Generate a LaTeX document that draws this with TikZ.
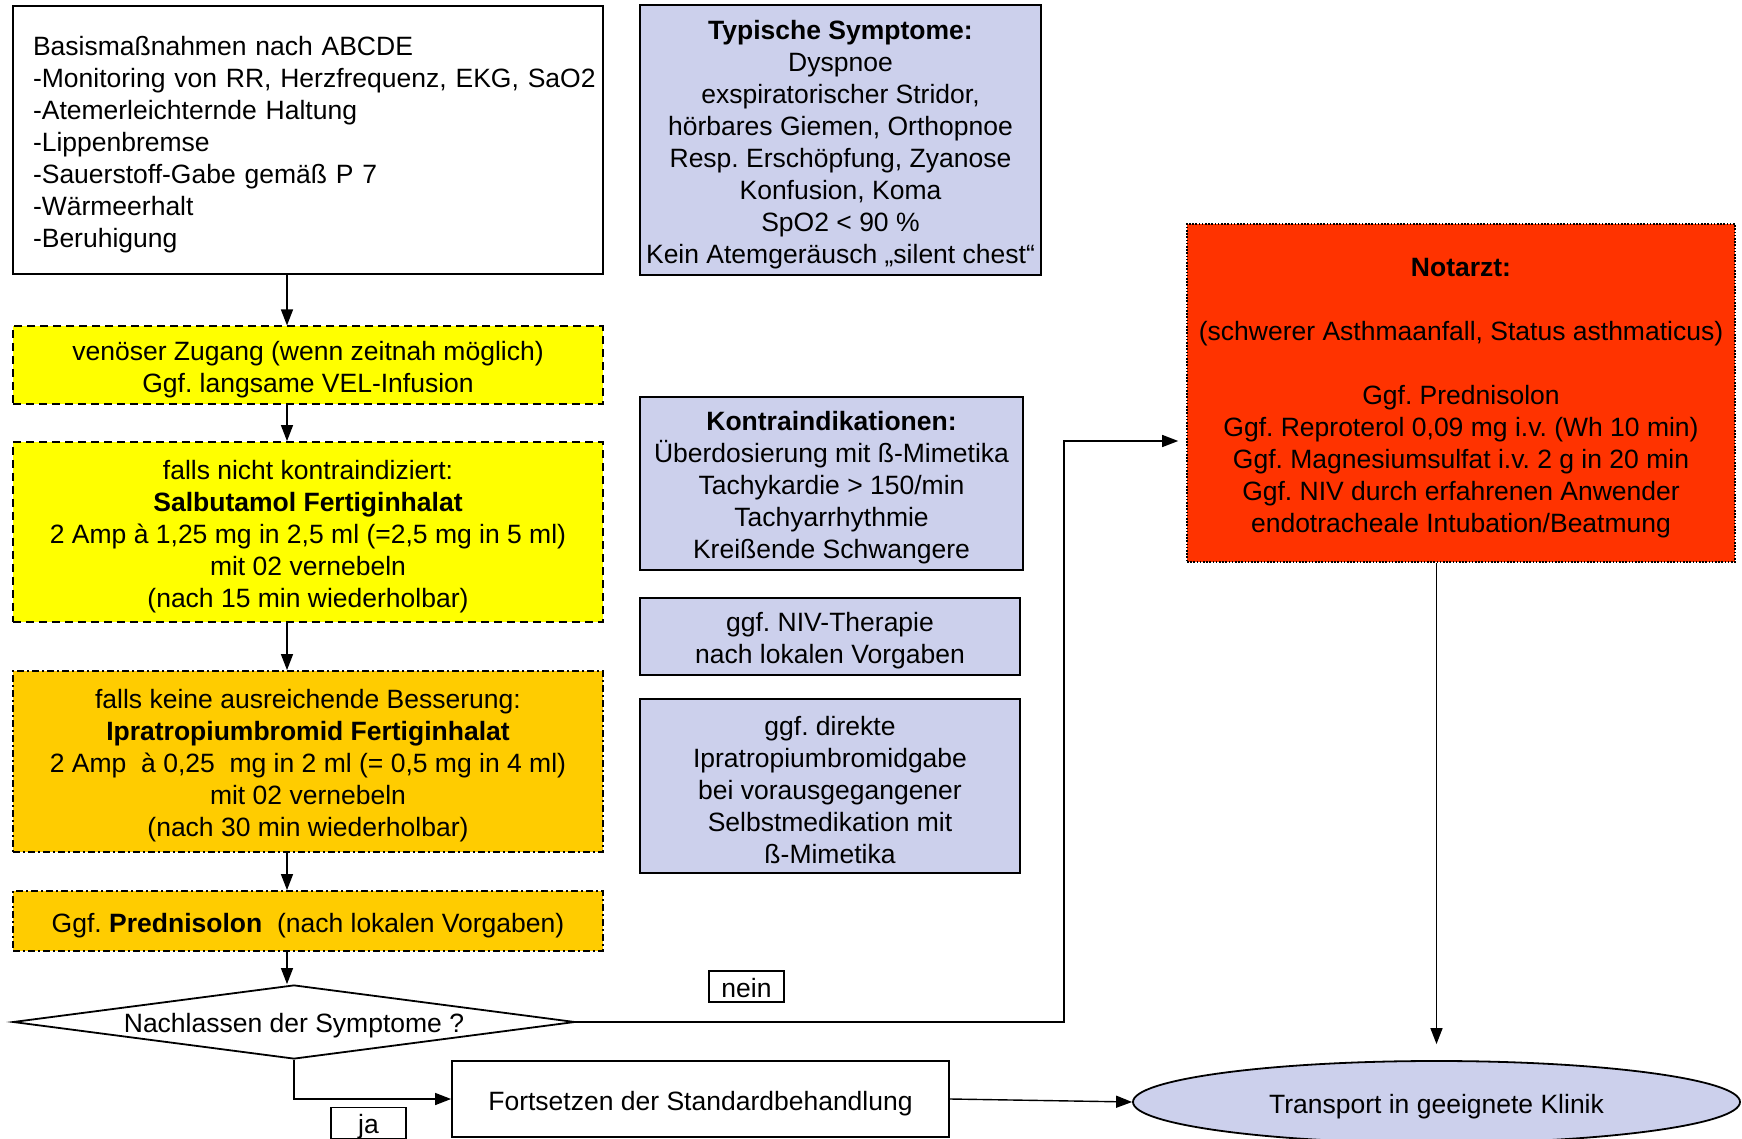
\documentclass[tikz,border=0pt]{standalone}
\usepackage{fontspec}
\setmainfont{Liberation Sans}
\usetikzlibrary{shapes.geometric,arrows.meta,calc}

\definecolor{lav}{RGB}{204,208,236}
\definecolor{gelb}{RGB}{255,255,0}
\definecolor{orangegelb}{RGB}{255,204,0}
\definecolor{notrot}{RGB}{255,51,0}

% taller first line, so that stacked lines sit a little lower in their box
\newcommand\tstrut{\rule{0pt}{13.9pt}}
% single line moved down by #1 without changing the node size
\newcommand\lowered[2]{\raisebox{-#1}[\height][\depth]{#2}}

\tikzset{
  base/.style={draw=black, line width=0.9pt, align=center, inner sep=3pt,
    font=\fontsize{13.25}{16}\selectfont\frenchspacing},
  wh/.style 2 args={minimum width=#1*0.5pt, minimum height=#2*0.5pt},
  plainbox/.style={base, fill=white},
  infobox/.style={base, fill=lav},
  gelbbox/.style={base, fill=gelb, dash pattern=on 4pt off 2.5pt},
  orangebox/.style={base, fill=orangegelb, dash pattern=on 3.5pt off 1.5pt on 1pt off 1.5pt},
  rotbox/.style={base, fill=notrot, line width=0.8pt, dash pattern=on 0.8pt off 0.8pt},
  tagbox/.style={base, fill=white, line width=0.8pt, inner sep=1pt},
  flow/.style={draw=black, line width=0.7pt, -{Triangle[length=8pt,width=6pt]}},
}

\begin{document}
\begin{tikzpicture}[x=0.5pt, y=-0.5pt]
\useasboundingbox (0,0) rectangle (1742,1139);

% left column: treatment steps
\node[plainbox, wh={590}{268}, align=left, text width=275pt, inner xsep=10pt] (basis) at (308,140)
  {\mbox{\tstrut Basismaßnahmen nach ABCDE}\\
   \mbox{-Monitoring von RR, Herzfrequenz, EKG, SaO2}\\
   \mbox{-Atemerleichternde Haltung}\\
   \mbox{-Lippenbremse}\\
   \mbox{-Sauerstoff-Gabe gemäß P 7}\\
   \mbox{-Wärmeerhalt}\\
   \mbox{-Beruhigung}};

\node[gelbbox, wh={590}{74}] (zugang) at (308,365)
  {\tstrut venöser Zugang (wenn zeitnah möglich)\\ Ggf. langsame VEL-Infusion};

\node[gelbbox, wh={590}{180}] (salbu) at (308,532)
  {\tstrut falls nicht kontraindiziert:\\
   \textbf{Salbutamol Fertiginhalat}\\
   2 Amp à 1,25 mg in 2,5 ml (=2,5 mg in 5 ml)\\
   mit 02 vernebeln\\
   (nach 15 min wiederholbar)};

\node[orangebox, wh={590}{181}] (ipra) at (308,761.5)
  {\tstrut falls keine ausreichende Besserung:\\
   \textbf{Ipratropiumbromid Fertiginhalat}\\
   2 Amp\ \ à 0,25\ \ mg in 2 ml (= 0,5 mg in 4 ml)\\
   mit 02 vernebeln\\
   (nach 30 min wiederholbar)};

\node[orangebox, wh={590}{60}] (predni) at (308,921)
  {\lowered{2.1pt}{Ggf. \textbf{Prednisolon}\ \ (nach lokalen Vorgaben)}};

\node[base, diamond, fill=white, shape aspect=7.6, inner sep=0pt, wh={562}{74}] (frage) at (294,1022)
  {\lowered{1.6pt}{Nachlassen der Symptome ?}};

% middle column: information boxes
\node[infobox, wh={401}{268}] (sympt) at (840.5,140)
  {\tstrut\textbf{Typische Symptome:}\\
   Dyspnoe\\
   exspiratorischer Stridor,\\
   hörbares Giemen, Orthopnoe\\
   Resp. Erschöpfung, Zyanose\\
   Konfusion, Koma\\
   SpO2 < 90 \%\\
   Kein Atemgeräusch „silent chest“};

\node[infobox, wh={383}{173}] (kontra) at (831.5,483.5)
  {\tstrut\textbf{Kontraindikationen:}\\
   Überdosierung mit ß-Mimetika\\
   Tachykardie > 150/min\\
   Tachyarrhythmie\\
   Kreißende Schwangere};

\node[infobox, wh={380}{69}] (niv) at (830,636.5)
  {\tstrut ggf. NIV-Therapie\\ nach lokalen Vorgaben};

\node[infobox, wh={380}{174}] (direkt) at (830,786)
  {\tstrut ggf. direkte\\
   Ipratropiumbromidgabe\\
   bei vorausgegangener\\
   Selbstmedikation mit\\
   ß-Mimetika};

% right column: emergency physician
\node[rotbox, wh={548}{338}] (notarzt) at (1461,393)
  {\tstrut\textbf{Notarzt:}\\[16pt]
   (schwerer Asthmaanfall, Status asthmaticus)\\[16pt]
   Ggf. Prednisolon\\
   Ggf. Reproterol 0,09 mg i.v. (Wh 10 min)\\
   Ggf. Magnesiumsulfat i.v. 2 g in 20 min\\
   Ggf. NIV durch erfahrenen Anwender\\
   endotracheale Intubation/Beatmung};

% bottom row
\node[plainbox, wh={497}{76}] (weiter) at (700.5,1099)
  {\lowered{2.1pt}{Fortsetzen der Standardbehandlung}};

\node[base, ellipse, fill=lav, wh={607}{82}] (klinik) at (1436.5,1102)
  {\lowered{2.1pt}{Transport in geeignete Klinik}};

\node[tagbox, wh={75}{31}] (nein) at (746.5,986.5) {\lowered{1pt}{nein}};
\node[tagbox, wh={75}{31}] (ja) at (368.5,1123) {\lowered{2pt}{ja}};

% connectors
\coordinate (ax) at (287,0);
\coordinate (knick) at (1064,441);

\draw[flow] (basis.south -| ax) -- (zugang.north -| ax);
\draw[flow] (zugang.south -| ax) -- (salbu.north -| ax);
\draw[flow] (salbu.south -| ax) -- (ipra.north -| ax);
\draw[flow] (ipra.south -| ax) -- (predni.north -| ax);
\draw[flow] (predni.south -| ax) -- (frage.north -| ax);

\draw[flow, shorten >=4pt] (frage.east) -| (knick) -- (notarzt.west |- knick);
\draw[flow, shorten >=8pt] (notarzt.south -| klinik.north) -- (klinik.north);
\draw[flow] (frage.south) |- (weiter.west);
\draw[flow] (weiter.east) -- (klinik.west);
\end{tikzpicture}
\end{document}
